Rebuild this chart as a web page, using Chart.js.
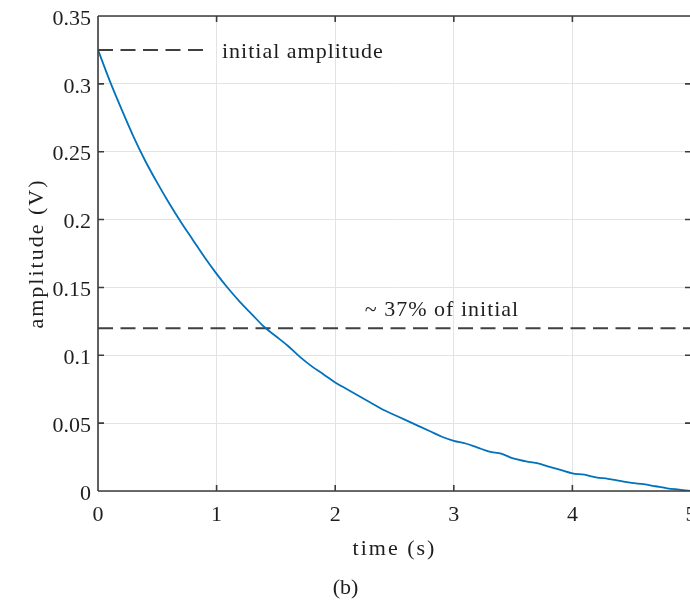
<!DOCTYPE html>
<html><head><meta charset="utf-8">
<script src="https://cdn.jsdelivr.net/npm/chart.js@4.4.1/dist/chart.umd.min.js"></script>
<style>html,body{margin:0;padding:0;background:#fff;overflow:hidden;}#wrap{width:720px;height:603px;}</style>
</head><body><div id="wrap"><canvas id="c" width="720" height="603"></canvas></div>
<script>
// ---- data ----
const timeS = [0.0,0.1,0.2,0.3,0.4,0.5,0.6,0.7,0.8,0.9,
  1.0,1.1,1.2,1.3,1.4,1.5,1.6,1.7,1.8,1.9,
  2.0,2.1,2.2,2.3,2.4,2.5,2.6,2.7,2.8,2.9,
  3.0,3.1,3.2,3.3,3.4,3.5,3.6,3.7,3.8,3.9,
  4.0,4.1,4.2,4.3,4.4,4.5,4.6,4.7,4.8,4.9,5.0];
const amplitudeV = [0.325,0.302,0.281,0.261,0.243,0.227,0.212,0.198,0.185,0.172,
  0.160,0.149,0.139,0.130,0.121,0.114,0.107,0.099,0.092,0.086,
  0.080,0.075,0.070,0.065,0.060,0.056,0.052,0.048,0.044,0.040,
  0.037,0.035,0.032,0.029,0.0275,0.024,0.022,0.0205,0.018,0.0155,
  0.013,0.012,0.010,0.009,0.0075,0.006,0.005,0.0035,0.002,0.001,0.000];
const initialLineX = [0, 0.93];
const initialLineY = [0.325, 0.325];
const e37LineX = [0, 5];
const e37LineY = [0.12, 0.12];
const xTickLabels = ['0','1','2','3','4','5'];
const yTickLabels = ['0','0.05','0.1','0.15','0.2','0.25','0.3','0.35'];
const xTitle = 'time (s)';
const yTitle = 'amplitude (V)';
const panelLabel = '(b)';
const noteInitial = 'initial amplitude';
const note37 = '~ 37% of initial';

// ---- styling ----
const FONT = '"Liberation Serif", "Times New Roman", serif';
const AXIS = '#3c3c3c';
const TEXT = '#1e1e1e';

const pts = (xs, ys) => xs.map((v, i) => ({x: v, y: ys[i]}));

// wider letter spacing for the axis titles only
function spacedTitle(s) {
  if (s._spaced) return;
  const orig = s.drawTitle;
  s.drawTitle = function () {
    this.ctx.save();
    this.ctx.letterSpacing = '2px';
    orig.apply(this, arguments);
    this.ctx.restore();
  };
  s._spaced = true;
}

const decor = {
  id: 'decor',
  afterDatasetsDraw(chart) {
    const {ctx, chartArea: a, scales: {x, y}} = chart;
    ctx.save();
    ctx.strokeStyle = AXIS;
    ctx.lineWidth = 1.6;
    ctx.beginPath();
    ctx.moveTo(a.left, a.top); ctx.lineTo(a.right, a.top);
    ctx.moveTo(a.left, a.bottom); ctx.lineTo(a.right, a.bottom);
    ctx.moveTo(a.left, a.top); ctx.lineTo(a.left, a.bottom);
    ctx.moveTo(a.right, a.top); ctx.lineTo(a.right, a.bottom);
    const tl = 6;
    x.ticks.forEach(t => {
      const px = x.getPixelForValue(t.value);
      ctx.moveTo(px, a.bottom); ctx.lineTo(px, a.bottom - tl);
      ctx.moveTo(px, a.top); ctx.lineTo(px, a.top + tl);
    });
    y.ticks.forEach(t => {
      const py = y.getPixelForValue(t.value);
      ctx.moveTo(a.left, py); ctx.lineTo(a.left + tl, py);
      ctx.moveTo(a.right, py); ctx.lineTo(a.right - tl, py);
    });
    ctx.stroke();
    ctx.fillStyle = TEXT;
    ctx.font = '22px ' + FONT;
    ctx.letterSpacing = '1px';
    ctx.textAlign = 'left';
    ctx.textBaseline = 'middle';
    ctx.fillText(noteInitial, x.getPixelForValue(1.045), y.getPixelForValue(0.3235));
    ctx.fillText(note37, x.getPixelForValue(2.25), y.getPixelForValue(0.1335));
    ctx.restore();
  }
};

new Chart(document.getElementById('c'), {
  type: 'line',
  data: {
    datasets: [
      {data: pts(timeS, amplitudeV), borderColor: '#0072BD', borderWidth: 1.8, pointRadius: 0, cubicInterpolationMode: 'monotone', fill: false},
      {data: pts(initialLineX, initialLineY), borderColor: '#404040', borderWidth: 2, borderDash: [15, 7.5], pointRadius: 0, fill: false},
      {data: pts(e37LineX, e37LineY), borderColor: '#404040', borderWidth: 2, borderDash: [15, 7.5], pointRadius: 0, fill: false}
    ]
  },
  options: {
    responsive: false,
    animation: false,
    devicePixelRatio: 1,
    layout: {padding: {top: 16, right: 29, left: 0, bottom: 0}},
    plugins: {
      legend: {display: false},
      tooltip: {enabled: false},
      title: {display: true, position: 'bottom', text: panelLabel, color: TEXT,
        font: {family: FONT, size: 22, weight: 'normal', lineHeight: 1.2}, padding: {top: 8, bottom: 2}}
    },
    scales: {
      x: {
        type: 'linear', min: 0, max: 5,
        afterFit(s) { s.height = 603 - 491 - 36.4; s.paddingLeft = 0; s.paddingRight = 0; spacedTitle(s); },
        ticks: {stepSize: 1, padding: 11, color: TEXT, font: {family: FONT, size: 22},
          callback: (v, i) => xTickLabels[i], maxRotation: 0},
        grid: {color: '#e3e3e3', lineWidth: 1, drawTicks: false},
        border: {display: false},
        title: {display: true, text: xTitle, color: TEXT, font: {family: FONT, size: 22, lineHeight: 1.2}, padding: {top: 0, bottom: 4}}
      },
      y: {
        type: 'linear', min: 0, max: 0.35,
        afterFit(s) { s.width = 98; s.paddingTop = 0; s.paddingBottom = 0; spacedTitle(s); },
        ticks: {stepSize: 0.05, padding: 7, labelOffset: 3, color: TEXT, font: {family: FONT, size: 22},
          callback: (v, i) => yTickLabels[i]},
        grid: {color: '#e3e3e3', lineWidth: 1, drawTicks: false},
        border: {display: false},
        title: {display: true, text: yTitle, color: TEXT, font: {family: FONT, size: 22, lineHeight: 1.2}, padding: {top: 24, bottom: 0}}
      }
    }
  },
  plugins: [decor]
});
</script></body></html>
